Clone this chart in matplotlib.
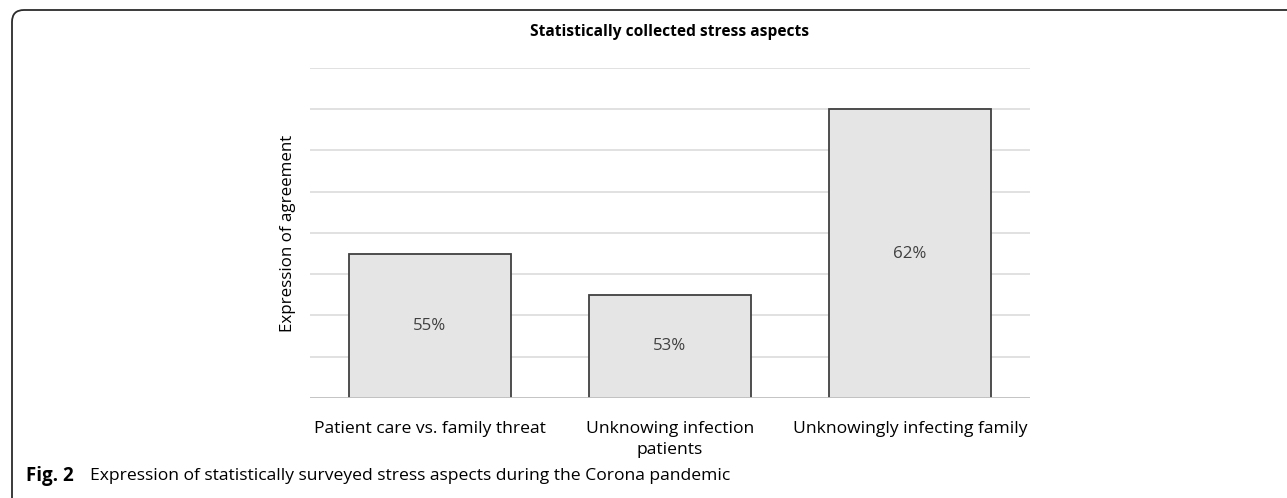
import matplotlib
matplotlib.use('Agg')
import matplotlib.pyplot as plt
from matplotlib.patches import FancyBboxPatch

categories = ["Patient care vs. family threat",
              "Unknowing infection\npatients",
              "Unknowingly infecting family"]
agreement = [55, 53, 62]
value_labels = ["55%", "53%", "62%"]
grid_levels = [48, 50, 52, 54, 56, 58, 60, 62, 64]

FONT = "Open Sans"

fig = plt.figure(figsize=(12.87, 4.98), dpi=100)
ax = fig.add_axes([0.2409, 0.2008, 0.5594, 0.6627])

ax.bar(range(len(categories)), agreement, width=0.675, bottom=0,
       color="#e5e5e5", edgecolor="#404040", linewidth=1.3, zorder=3)
ax.set_xlim(-0.5, 2.5)
ax.set_ylim(48, 64)

for lvl in grid_levels[1:]:
    ax.axhline(lvl, color="#d9d9d9", linewidth=1.1, zorder=1)
ax.axhline(48, color="#bfbfbf", linewidth=1.3, zorder=4)

for i, v in enumerate(agreement):
    ax.text(i, (48 + v) / 2, value_labels[i], ha="center", va="center",
            fontsize=12.2, color="#404040", family=FONT, zorder=5)

ax.set_xticks(range(len(categories)))
ax.set_xticklabels(categories, fontsize=12.6, family=FONT, color="#000000",
                   linespacing=1.45)
ax.tick_params(axis="x", length=0, pad=16.5)
ax.set_yticks([])
for s in ax.spines.values():
    s.set_visible(False)

ax.set_ylabel("Expression of agreement", fontsize=12.2, family=FONT,
              labelpad=10)

fig.text(0.5206, 1 - 32 / 498, "Statistically collected stress aspects",
         ha="center", va="center", fontsize=11.2, fontweight="bold", family=FONT)

# caption under the chart
cap_y = 1 - 476 / 498
fig.text(26 / 1287, cap_y, "Fig. 2", fontsize=13.5, fontweight="bold",
         family=FONT, va="center", ha="left")
fig.text(90 / 1287, cap_y,
         "Expression of statistically surveyed stress aspects during the Corona pandemic",
         fontsize=12.6, family=FONT, va="center", ha="left")

# rounded panel frame, open to the right and bottom
frame = FancyBboxPatch((0.12, -0.6), 13.5, 4.88 + 0.6,
                       boxstyle="round,pad=0,rounding_size=0.12",
                       transform=fig.dpi_scale_trans, fill=False,
                       edgecolor="#2b2b2b", linewidth=1.3, clip_on=False)
fig.patches.append(frame)

fig.savefig("out.png", dpi=100)
